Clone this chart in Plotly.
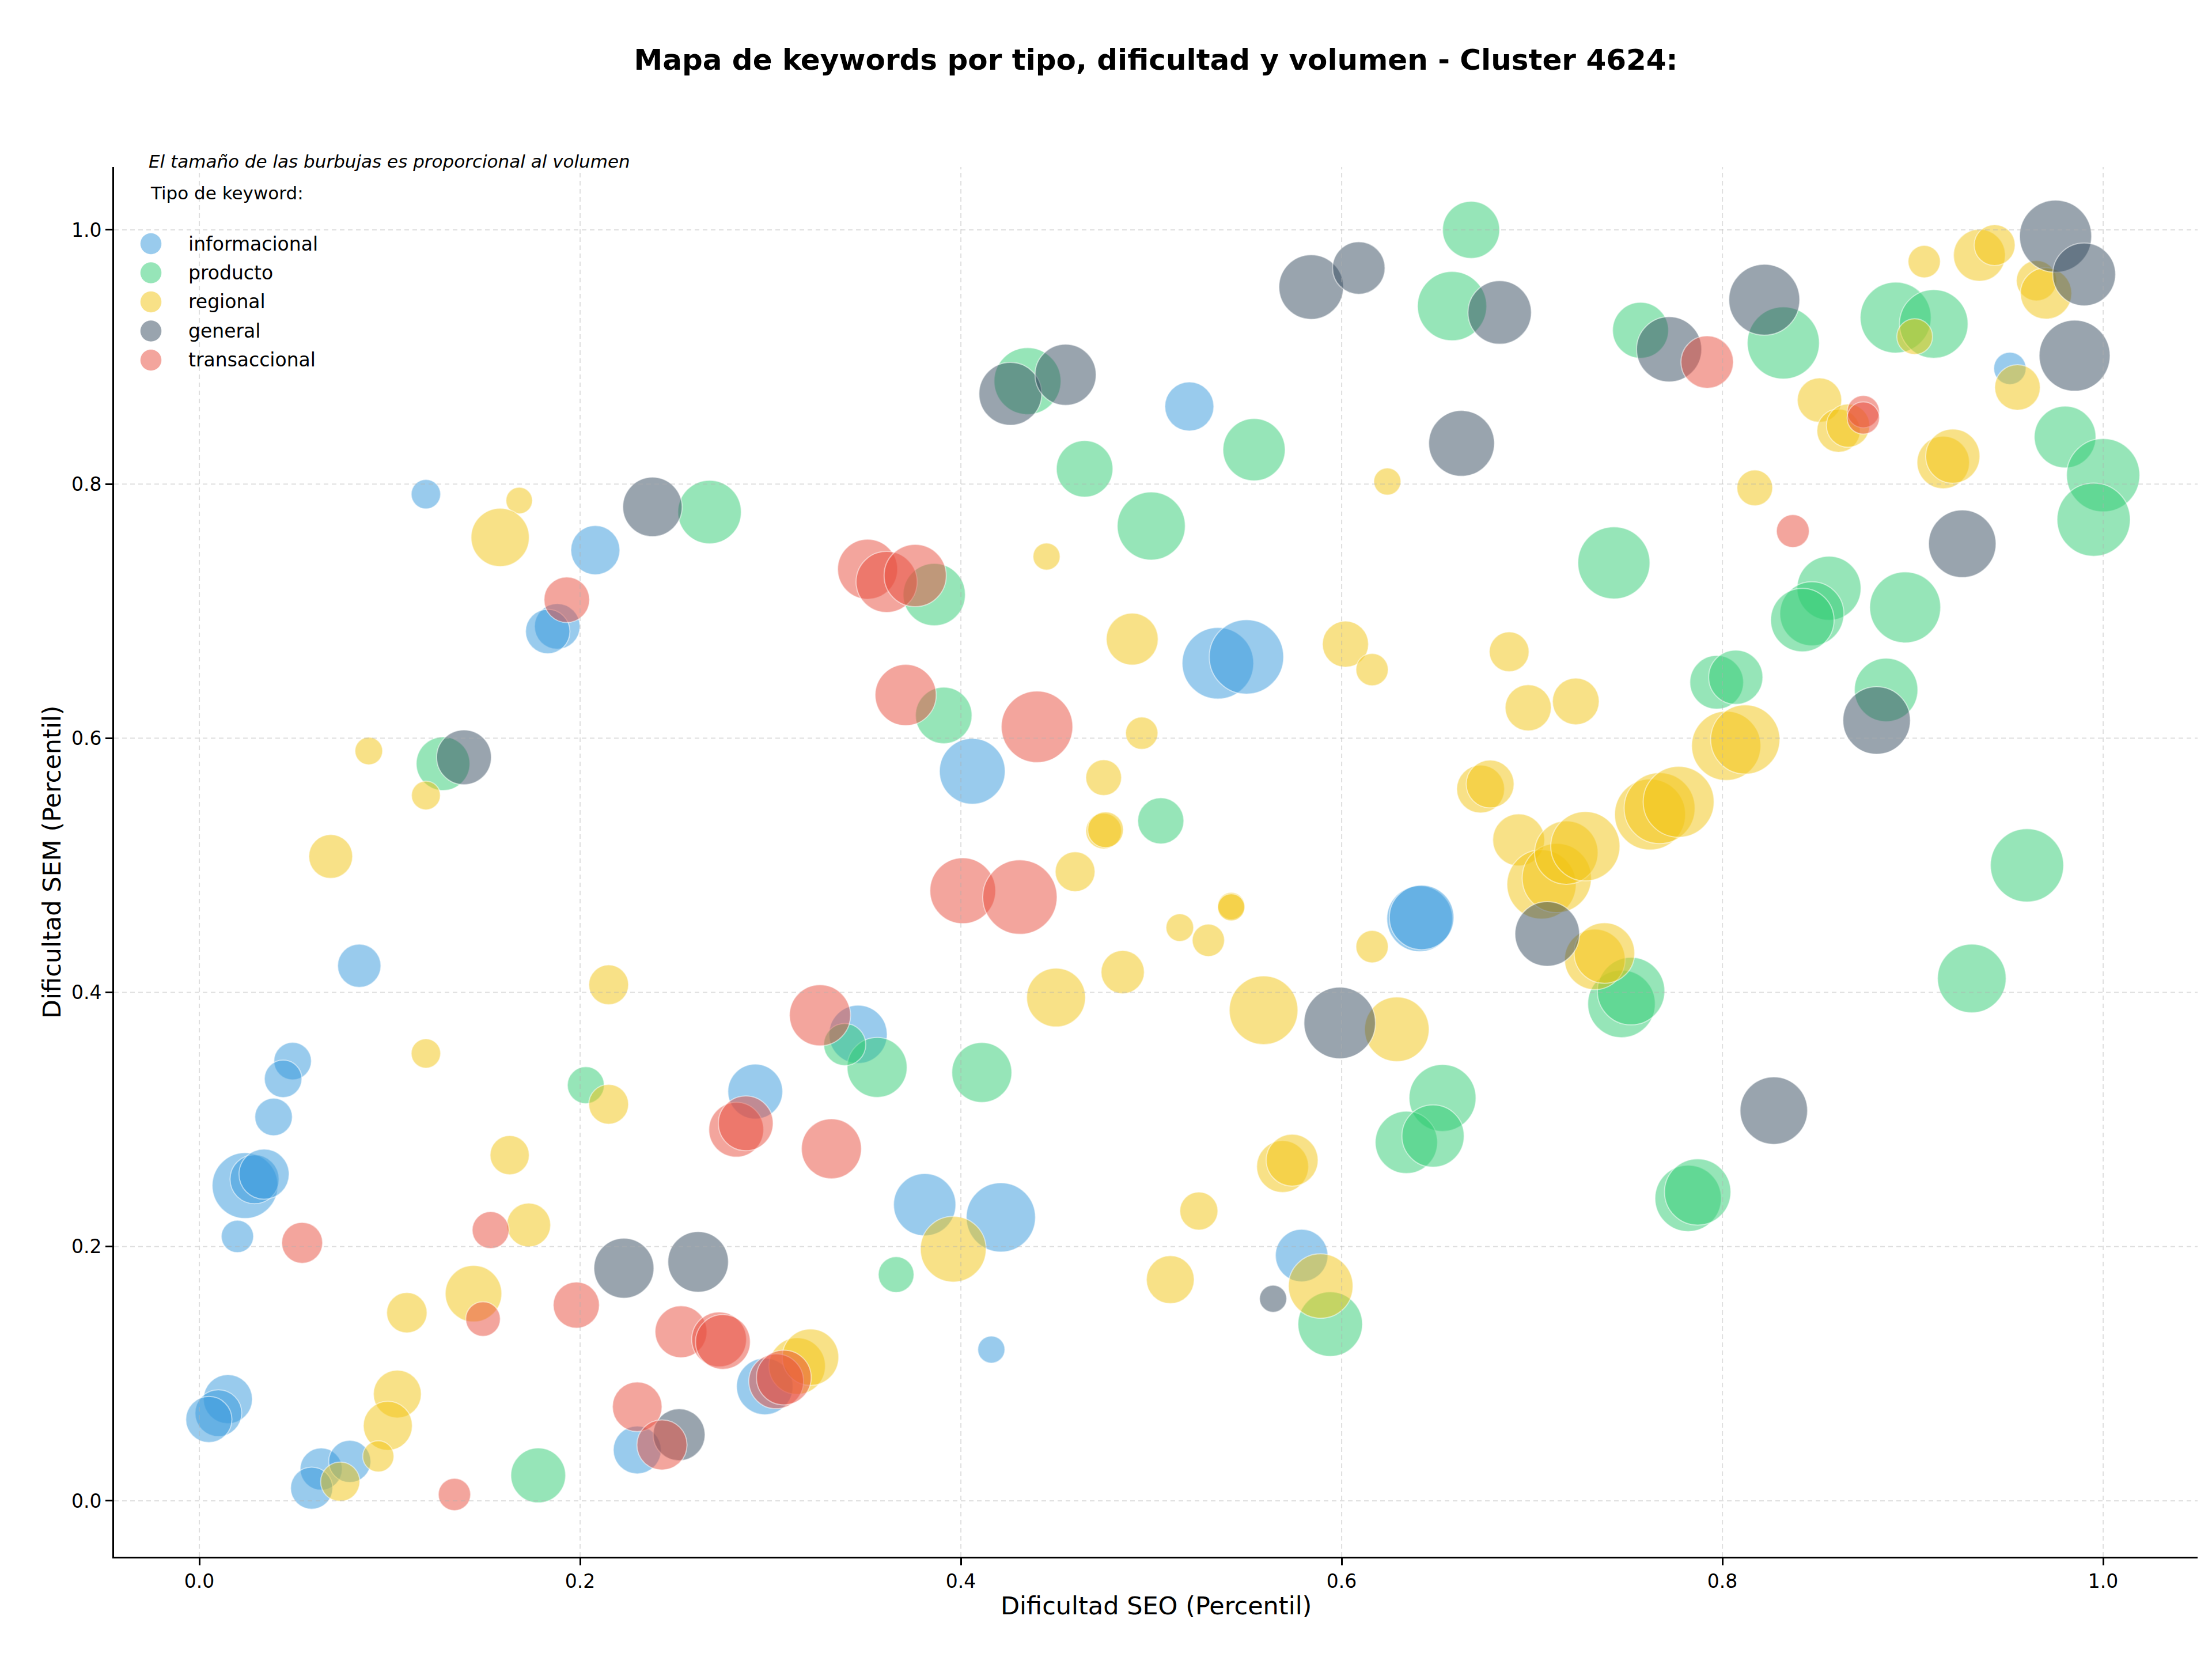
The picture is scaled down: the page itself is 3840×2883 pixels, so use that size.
import numpy as np
import plotly.graph_objects as go

# ---------------- data ----------------
tipos = ["informacional", "producto", "regional", "general", "transaccional"]
colores = ["52,152,219", "46,204,113", "241,196,15", "52,73,94", "231,76,60"]

info_seo = [0.119,0.208,0.188,0.183,0.520,0.535,0.550,0.406,0.951,0.641,0.642,0.579,0.416,0.381,0.421,0.346,0.084,0.049,0.044,0.039,0.024,0.029,0.034,0.020,0.297,0.230,0.015,0.010,0.005,0.064,0.079,0.059,0.292]
info_sem = [0.792,0.748,0.688,0.684,0.861,0.659,0.664,0.574,0.891,0.458,0.459,0.193,0.119,0.233,0.223,0.367,0.421,0.346,0.332,0.302,0.248,0.253,0.257,0.208,0.090,0.040,0.080,0.069,0.064,0.025,0.031,0.010,0.322]
info_vol = [260,723,624,593,723,1538,1664,1300,314,1300,1254,828,221,1166,1440,1020,563,423,423,423,1300,723,757,314,960,689,723,656,640,533,533,533,903]

prod_seo = [0.668,0.658,0.435,0.554,0.465,0.500,0.386,0.391,0.505,0.268,0.128,0.757,0.832,0.891,0.911,0.980,1.000,0.995,0.743,0.856,0.847,0.842,0.896,0.797,0.807,0.886,0.960,0.931,0.782,0.787,0.747,0.752,0.653,0.634,0.648,0.594,0.366,0.411,0.356,0.339,0.203,0.178]
prod_sem = [1.000,0.940,0.881,0.827,0.812,0.767,0.713,0.618,0.535,0.778,0.580,0.921,0.911,0.931,0.926,0.837,0.807,0.772,0.738,0.718,0.698,0.693,0.703,0.644,0.648,0.638,0.500,0.411,0.238,0.243,0.391,0.401,0.317,0.282,0.287,0.139,0.178,0.337,0.341,0.359,0.327,0.020]
prod_vol = [980,1440,1346,1166,960,1392,1166,960,640,1210,865,941,1563,1513,1416,1145,1613,1613,1563,1232,1232,1210,1513,865,884,1210,1613,1416,1323,1323,1369,1369,1346,1166,1166,1254,384,1082,1082,533,410,903]

reg_seo = [0.168,0.158,0.089,0.119,0.069,0.624,0.445,0.490,0.602,0.616,0.688,0.698,0.495,0.475,0.475,0.476,0.673,0.678,0.851,0.861,0.866,0.906,0.935,0.943,0.965,0.970,0.901,0.955,0.916,0.921,0.817,0.723,0.802,0.812,0.762,0.767,0.777,0.693,0.705,0.713,0.718,0.728,0.733,0.738,0.460,0.515,0.530,0.542,0.542,0.485,0.450,0.559,0.629,0.616,0.569,0.574,0.525,0.589,0.510,0.396,0.215,0.119,0.215,0.163,0.173,0.144,0.109,0.104,0.099,0.094,0.074,0.314,0.321]
reg_sem = [0.787,0.758,0.590,0.555,0.507,0.802,0.743,0.678,0.674,0.654,0.668,0.624,0.604,0.569,0.527,0.528,0.560,0.564,0.866,0.842,0.846,0.975,0.980,0.988,0.960,0.950,0.916,0.876,0.817,0.822,0.797,0.629,0.594,0.599,0.540,0.545,0.550,0.520,0.485,0.490,0.510,0.515,0.426,0.431,0.495,0.451,0.441,0.468,0.467,0.416,0.396,0.386,0.371,0.436,0.263,0.268,0.228,0.169,0.174,0.198,0.406,0.352,0.312,0.272,0.217,0.163,0.148,0.084,0.059,0.035,0.015,0.106,0.113]
reg_vol = [212,1020,230,250,578,221,221,810,640,314,476,640,314,384,384,384,689,689,593,563,563,314,810,504,490,792,384,624,828,884,384,656,1440,1440,1513,1513,1513,810,1440,1440,1210,1440,1103,1103,476,230,314,221,221,563,1040,1416,1254,314,810,810,436,1254,689,1300,476,260,476,462,578,960,490,689,723,292,462,960,960]

gen_seo = [0.584,0.609,0.683,0.426,0.455,0.663,0.238,0.139,0.772,0.822,0.975,0.990,0.985,0.926,0.881,0.827,0.708,0.599,0.564,0.223,0.262,0.252]
gen_sem = [0.955,0.970,0.935,0.871,0.886,0.832,0.782,0.585,0.906,0.945,0.995,0.965,0.901,0.753,0.614,0.307,0.446,0.376,0.159,0.183,0.188,0.052]
gen_vol = [1254,828,1210,1188,1124,1300,1061,903,1277,1513,1563,1188,1513,1369,1369,1369,1254,1538,221,1082,1103,810]

trans_seo = [0.193,0.351,0.361,0.376,0.371,0.440,0.792,0.874,0.874,0.837,0.401,0.431,0.332,0.326,0.282,0.287,0.054,0.153,0.149,0.198,0.253,0.273,0.275,0.303,0.307,0.230,0.243,0.134]
trans_sem = [0.709,0.733,0.723,0.728,0.634,0.609,0.896,0.857,0.852,0.763,0.480,0.475,0.277,0.382,0.292,0.297,0.203,0.213,0.143,0.154,0.133,0.127,0.125,0.094,0.097,0.074,0.044,0.005]
trans_vol = [624,1082,1124,1166,1124,1538,828,314,314,325,1300,1664,1082,1124,903,903,504,410,360,640,810,903,903,903,903,740,757,314]

series = [
    (info_seo, info_sem, info_vol),
    (prod_seo, prod_sem, prod_vol),
    (reg_seo, reg_sem, reg_vol),
    (gen_seo, gen_sem, gen_vol),
    (trans_seo, trans_sem, trans_vol),
]

ticks = [0.0, 0.2, 0.4, 0.6, 0.8, 1.0]

titulo = "Mapa de keywords por tipo, dificultad y volumen - Cluster 4624:"
nota = "El tamaño de las burbujas es proporcional al volumen"
titulo_leyenda = "Tipo de keyword:"
x_label = "Dificultad SEO (Percentil)"
y_label = "Dificultad SEM (Percentil)"

# ---------------- figure ----------------
W, H = 3840, 2883
ML, MR, MT, MB = 198, 25, 290, 181
PW, PH = W - ML - MR, H - MT - MB
FONT = "DejaVu Sans"
AREA_PX_PER_VOL = 10.0  # bubble area scale (px^2 per unit of volume)
ALPHA = 0.5

fig = go.Figure()
for tipo, col, (sx, sy, sv) in zip(tipos, colores, series):
    sizes = np.sqrt(np.array(sv, dtype=float) * AREA_PX_PER_VOL)
    fig.add_trace(go.Scatter(
        x=sx, y=sy, mode="markers", name=tipo, showlegend=False,
        marker=dict(size=sizes, sizemode="diameter", opacity=1,
                    color=f"rgba({col},{ALPHA})",
                    line=dict(color="rgba(255,255,255,0.5)", width=2)),
        cliponaxis=False,
    ))

def px_x(X):
    return (X - ML) / PW

def px_y(Y):
    return (H - MB - Y) / PH

annotations = [
    dict(text=nota, x=px_x(256), y=px_y(280), xref="paper", yref="paper",
         xanchor="left", yanchor="middle", showarrow=False,
         font=dict(family=FONT, size=31, color="black", style="italic")),
    dict(text=titulo_leyenda, x=px_x(259), y=px_y(335), xref="paper", yref="paper",
         xanchor="left", yanchor="middle", showarrow=False,
         font=dict(family=FONT, size=31, color="black")),
    dict(text=x_label, x=0.5, y=px_y(2787), xref="paper", yref="paper",
         xanchor="center", yanchor="middle", showarrow=False,
         font=dict(family=FONT, size=43, color="black")),
    dict(text=y_label, x=px_x(90), y=0.5, xref="paper", yref="paper",
         xanchor="center", yanchor="middle", showarrow=False, textangle=-90,
         font=dict(family=FONT, size=43, color="black")),
]

shapes = []
# dashed grid drawn over the bubbles (faint), as in the reference
grid_line = dict(color="rgba(176,176,176,0.4)", width=2, dash="8px,6px")
for t in ticks:
    shapes.append(dict(type="line", xref="x", yref="paper", x0=t, x1=t, y0=0, y1=1,
                       line=grid_line, layer="above"))
    shapes.append(dict(type="line", xref="paper", yref="y", x0=0, x1=1, y0=t, y1=t,
                       line=grid_line, layer="above"))

for i, (tipo, col) in enumerate(zip(tipos, colores)):
    yy = 423 + 50.5 * i
    shapes.append(dict(type="circle", xref="paper", yref="paper",
                       xsizemode="pixel", ysizemode="pixel",
                       xanchor=px_x(262), yanchor=px_y(yy),
                       x0=-18.5, x1=18.5, y0=-18.5, y1=18.5,
                       fillcolor=f"rgba({col},{ALPHA})",
                       line=dict(color="rgba(255,255,255,0.5)", width=1)))
    annotations.append(dict(text=tipo, x=px_x(325), y=px_y(yy), xref="paper", yref="paper",
                            xanchor="left", yanchor="middle", showarrow=False,
                            font=dict(family=FONT, size=33, color="black")))

axis_common = dict(
    showline=True, linecolor="black", linewidth=2.7, mirror=False,
    ticks="outside", ticklen=12, tickwidth=2.7, tickcolor="black",
    tickfont=dict(family=FONT, size=33, color="black"),
    showgrid=False, zeroline=False,
    tickmode="array", tickvals=ticks, ticktext=[f"{t:.1f}" for t in ticks],
)

fig.update_layout(
    width=W, height=H,
    margin=dict(l=ML, r=MR, t=MT, b=MB, autoexpand=False),
    paper_bgcolor="white", plot_bgcolor="white",
    title=dict(text=titulo, x=0.5, xref="paper", y=1 - 103 / H, yref="container",
               xanchor="center", yanchor="middle",
               font=dict(family=FONT, size=50, color="black", weight="bold")),
    xaxis=dict(range=[-0.0448, 1.0496], **axis_common),
    yaxis=dict(range=[-0.044, 1.0494], **axis_common),
    annotations=annotations, shapes=shapes,
    showlegend=False,
)

fig.write_html("out.html")
